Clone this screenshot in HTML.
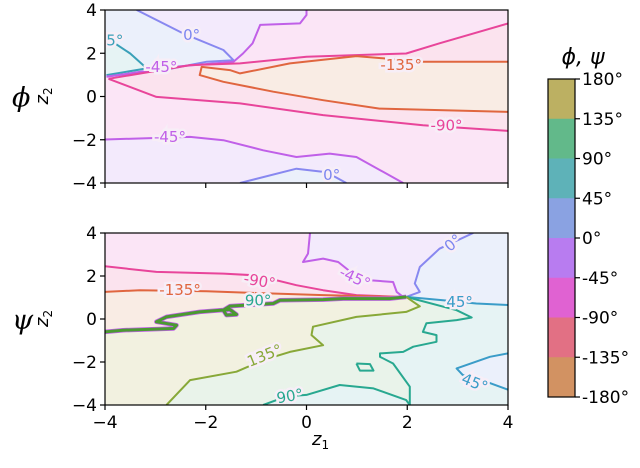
<!DOCTYPE html>
<html><head><meta charset="utf-8">
<style>
body{margin:0;background:#fff;}
svg{display:block;font-family:"DejaVu Sans","Liberation Sans",sans-serif;}
</style></head>
<body>
<svg id="chart" width="640" height="468" viewBox="0 0 640 468"></svg>
<script>
// ---- data (z1, z2 coordinates) ----
const xTicks = [-4,-2,0,2,4];
const yTicks = [4,2,0,-2,-4];
const cbLevels = [180,135,90,45,0,-45,-90,-135,-180];
const cbColors = ["#bcb062","#62b98a","#5eb2b8","#8aa2e2","#b87cf0","#e062d2","#e27084","#d29262"];

// top panel (phi)
const phiM90Upper = [[-3.93,0.82],[-2.31,1.45],[-1.32,1.53],[0,1.84],[1.98,1.99],[2.64,2.46],[4,3.38]];
const phiM90Lower = [[-3.93,0.82],[-2.98,-0.02],[-1.32,-0.32],[0.33,-0.86],[2.31,-1.33],[4,-1.59]];
const phiM135 = [[4,1.61],[2.31,1.61],[0.99,1.87],[-0.33,1.53],[-1.32,1.07],[-1.52,1.22],[-2.08,1.37],[-2.12,0.99],[-1.65,0.68],[-0.66,0.22],[0.33,-0.17],[1.45,-0.56],[4,-0.71]];
const phiM45Lower = [[-4,-1.99],[-2.31,-1.87],[-1.65,-2.02],[-0.86,-2.49],[-0.2,-2.8],[0.46,-2.64],[0.99,-2.8],[1.92,-4]];
const phiM45Upper = [[0,4],[0,3.77],[-0.13,3.38],[-0.92,3.31],[-1.07,2.46],[-1.26,1.99],[-1.45,1.61],[-2.64,1.37],[-3.97,0.91]];
const phi0Upper = [[-3.37,4],[-2.45,2.92],[-1.65,2.15],[-1.45,1.68],[-1.98,1.61],[-2.84,1.22],[-3.97,0.93]];
const phi45 = [[-4,2.76],[-3.5,1.99],[-3.17,1.3],[-3.97,0.99]];
const phi0Lower = [[-1.32,-4],[-0.2,-3.34],[0.4,-3.5],[0.79,-4]];

// bottom panel (psi)
const psiM90 = [[-4,2.45],[-2.98,2.19],[-1.65,2.11],[-0.99,2.03],[-0.2,1.57],[0.33,1.34],[0.99,1.11],[1.85,1.03]];
const psiM135 = [[-4,1.26],[-3.31,1.34],[-1.98,1.29],[-0.99,1.21],[0.33,1.11],[1.85,1.03]];
const psiM45 = [[0.07,4],[0.03,3.04],[-0.07,2.65],[0.33,2.81],[0.63,2.65],[0.92,2.11],[1.26,1.8],[1.72,1.72],[1.79,1.26],[1.92,1.03]];
const psi0 = [[3.31,4],[2.64,3.27],[2.25,2.42],[2.15,1.65],[2.25,1.26],[1.98,1.03]];
const psi45Upper = [[1.98,1.03],[2.71,0.87],[3.37,0.72],[4,0.65]];
const psi45Lower = [[4,-1.6],[3.64,-1.76],[2.98,-2.3],[3.1,-2.6],[3.64,-2.98],[4,-3.29]];
const psi90 = [[1.98,1.03],[2.98,0.41],[3.28,0.07],[2.98,-0.05],[2.38,-0.2],[2.31,-0.6],[2.58,-0.75],[2.58,-1.06],[2.12,-1.29],[1.92,-1.53],[1.46,-1.6],[1.46,-1.76],[1.72,-2.07],[2.05,-3.15],[2.05,-4]];
const psi90Lower = [[-0.86,-4],[-0.4,-3.6],[0,-3.53],[0.66,-3.07],[1.33,-3.23],[1.98,-3.77],[2.05,-4]];
const psi135 = [[1.98,1.03],[2.25,0.59],[1.98,0.33],[0.99,0.1],[0.13,-0.36],[0.1,-0.75],[0.33,-1.22],[-0.33,-1.53],[-0.86,-1.91],[-1.39,-2.45],[-2.31,-2.84],[-2.78,-4]];
const psiLoop = [[0.99,-2.07],[1.26,-2.1],[1.33,-2.4],[1.06,-2.4],[0.99,-2.07]];
const psiThick = [[-4,-0.6],[-3.64,-0.52],[-2.64,-0.44],[-2.58,-0.29],[-2.98,-0.13],[-2.78,0.1],[-2.12,0.33],[-1.52,0.44],[-1.39,0.21],[-1.59,0.18],[-1.65,0.41],[-1.52,0.6],[-0.66,0.72],[-0.53,0.87],[0.33,0.9],[0.73,0.95],[1.65,0.95],[1.98,1.03]];

// contour labels: [text, z1, z2, rotation, color]
const phiLabels = [["0°",-2.28,2.84,0,"#7c86f0"],["45°",-3.9,2.6,0,"#3aa0b8"],["-45°",-2.88,1.37,0,"#c060e8"],["-135°",1.88,1.45,0,"#e0663f"],["-90°",2.78,-1.33,0,"#e8459a"],["-45°",-2.71,-1.87,0,"#c060e8"],["0°",0.5,-3.64,0,"#7c86f0"]];
const psiLabels = [["-90°",-0.93,1.76,10,"#e8459a"],["-135°",-2.51,1.34,0,"#e0663f"],["-45°",0.96,1.91,25,"#c060e8"],["0°",2.91,3.54,-40,"#7c86f0"],["90°",-0.96,0.86,0,"#28a890"],["45°",3.04,0.8,0,"#3a9cc8"],["135°",-0.83,-1.7,-22,"#88a838"],["90°",-0.33,-3.59,-10,"#28a890"],["45°",3.34,-2.97,22,"#3a9cc8"]];

// ---- rendering ----
const NS="http://www.w3.org/2000/svg";
const svg=document.getElementById('chart');
const X0=105,X1=508;
const panels=[{y0:10,y1:183,name:'phi'},{y0:233,y1:405,name:'psi'}];
function el(tag,attrs,parent){const e=document.createElementNS(NS,tag);for(const k in attrs)e.setAttribute(k,attrs[k]);(parent||svg).appendChild(e);return e;}
function sx(v){return X0+(v+4)/8*(X1-X0);}
function makeSy(p){return v=>p.y0+(4-v)/8*(p.y1-p.y0);}
function pts(arr,sy){return arr.map(d=>sx(d[0]).toFixed(1)+','+sy(d[1]).toFixed(1)).join(' ');}

function panel(p,idx){
  const sy=makeSy(p);
  const g=el('g',{});
  
  
  const cid='clip'+idx;
  const cp=el('clipPath',{id:cid},g);
  el('rect',{x:X0,y:p.y0,width:X1-X0,height:p.y1-p.y0},cp);
  const plot=el('g',{'clip-path':'url(#'+cid+')'},g);
  
  
  return {g,plot,sy};
}
function fillPoly(parent,arr,sy,color,name){
  const e=el('polygon',{points:pts(arr,sy),fill:color,stroke:'none'},parent);
  
  
}
function line(parent,arr,sy,color,w,name){
  const e=el('polyline',{points:pts(arr,sy),fill:'none',stroke:color,'stroke-width':w||2,'stroke-linejoin':'round'},parent);
  
  
}
function labels(parent,arr,sy,name){
  arr.forEach(l=>{
    const x=sx(l[1]),y=sy(l[2]);
    const t=el('text',{x:x,y:y+5,'text-anchor':'middle','font-size':15,fill:l[4],stroke:'#f7eef7','stroke-width':5,'paint-order':'stroke',transform:'rotate('+l[3]+' '+x+' '+y+')'},parent);
    t.textContent=l[0];
    
    
  });
}
const T={orange:'#f9ece4',pink:'#fbe3ee',mag:'#fbe5f6',vio:'#f3eafc',blue:'#ebf0fb',teal:'#e6f3f4',green:'#e9f3ea',olive:'#f2f1e0'};

// top panel
{
  const P=panel(panels[0],0),s=P.sy,pl=P.plot;
  const bg=el('rect',{x:X0,y:10,width:X1-X0,height:173,fill:T.mag},pl);
  
  fillPoly(pl,phiM45Upper.concat([[-4,0.91],[-4,4]]),s,T.vio,'phi-region-violet-top');
  fillPoly(pl,phiM45Lower.concat([[-4,-4]]),s,T.vio,'phi-region-violet-bottom');
  fillPoly(pl,phi0Upper.concat([[-4,0.93],[-4,4]]),s,T.blue,'phi-region-blue-top');
  fillPoly(pl,phi0Lower,s,T.blue,'phi-region-blue-bottom');
  fillPoly(pl,phi45,s,T.teal,'phi-region-teal');
  fillPoly(pl,phiM90Upper.concat(phiM90Lower.slice().reverse()),s,T.pink,'phi-region-pink');
  fillPoly(pl,phiM135,s,T.orange,'phi-region-orange');
  line(pl,phi45,s,'#3aa0b8',2,'phi-contour-45');
  line(pl,phi0Upper,s,'#8888f0',2,'phi-contour-0-upper');
  line(pl,phi0Lower,s,'#8888f0',2,'phi-contour-0-lower');
  line(pl,phiM45Upper,s,'#c060e8',2,'phi-contour-m45-upper');
  line(pl,phiM45Lower,s,'#c060e8',2,'phi-contour-m45-lower');
  line(pl,phiM90Upper,s,'#e8459a',2,'phi-contour-m90-upper');
  line(pl,phiM90Lower,s,'#e8459a',2,'phi-contour-m90-lower');
  line(pl,phiM135,s,'#e0663f',2,'phi-contour-m135');
  labels(pl,phiLabels,s,'phi-contour-label');
}
// bottom panel
{
  const P=panel(panels[1],1),s=P.sy,pl=P.plot;
  const bg=el('rect',{x:X0,y:233,width:X1-X0,height:172,fill:T.blue},pl);
  
  fillPoly(pl,psi45Upper.concat(psi45Lower,[[4,-4],[-4,-4],[-4,1.03]]),s,T.teal,'psi-region-teal');
  fillPoly(pl,psi90.concat([[-4,-4],[-4,1.03]]),s,T.green,'psi-region-green');
  fillPoly(pl,psi90Lower,s,T.teal,'psi-region-teal-bottom');
  fillPoly(pl,psi135.concat([[-4,-4],[-4,1.03]]),s,T.olive,'psi-region-olive');
  fillPoly(pl,psiThick.concat([[2,4],[-4,4]]),s,T.orange,'psi-region-orange');
  fillPoly(pl,psiM135.concat([[2,4],[-4,4]]),s,T.pink,'psi-region-pink');
  fillPoly(pl,psiM90.concat([[2,4],[-4,4]]),s,T.mag,'psi-region-magenta');
  fillPoly(pl,psiM45.concat([[4,1.03],[4,4]]),s,T.vio,'psi-region-violet');
  fillPoly(pl,psi0.concat(psi45Upper.slice(1),[[4,4]]),s,T.blue,'psi-region-blue');
  line(pl,psiM90,s,'#e8459a',2,'psi-contour-m90');
  line(pl,psiM135,s,'#e0663f',2,'psi-contour-m135');
  line(pl,psiM45,s,'#c060e8',2,'psi-contour-m45');
  line(pl,psi0,s,'#8888f0',2,'psi-contour-0');
  line(pl,psi45Upper,s,'#3a9cc8',2,'psi-contour-45-upper');
  line(pl,psi45Lower,s,'#3a9cc8',2,'psi-contour-45-lower');
  line(pl,psi90,s,'#28a890',2,'psi-contour-90');
  line(pl,psi90Lower,s,'#28a890',2,'psi-contour-90-lower');
  line(pl,psi135,s,'#88a838',2,'psi-contour-135');
  line(pl,psiLoop,s,'#28a890',2,'psi-contour-90-loop');
  line(pl,psiThick,s,'#c060e8',4.5,'psi-discontinuity-outline');
  line(pl,psiThick,s,'#4a9a30',3,'psi-discontinuity-180');
  labels(pl,psiLabels,s,'psi-contour-label');
}
// axes frames, ticks
panels.forEach((p,i)=>{
  const sy=makeSy(p);
  const f=el('rect',{x:X0,y:p.y0,width:X1-X0,height:p.y1-p.y0,fill:'none',stroke:'#000','stroke-width':1.2});
  
  yTicks.forEach(v=>{
    el('line',{x1:X0-5,x2:X0,y1:sy(v),y2:sy(v),stroke:'#000','stroke-width':1.2});
    const t=el('text',{x:X0-8,y:sy(v)+6,'text-anchor':'end','font-size':17,fill:'#000'});
    t.textContent=v<0?'\u2212'+(-v):String(v);
    
  });
  xTicks.forEach(v=>{
    el('line',{x1:sx(v),x2:sx(v),y1:p.y1,y2:p.y1+5,stroke:'#000','stroke-width':1.2});
    if(i===1){
      const t=el('text',{x:sx(v),y:p.y1+23,'text-anchor':'middle','font-size':17,fill:'#000'});
      t.textContent=v<0?'\u2212'+(-v):String(v);
      
    }
  });
  const yl=el('text',{x:0,y:0,'font-size':18,fill:'#000','font-style':'italic',transform:'translate(48,'+((p.y0+p.y1)/2+8)+') rotate(-90)'});
  yl.innerHTML='z<tspan font-size="12" dy="4" font-style="normal">2</tspan>';
  
  const big=el('text',{x:12,y:(p.y0+p.y1)/2+10,'font-size':27,'font-style':'italic',fill:'#000','font-family':'"DejaVu Serif",serif'});
  big.textContent=i===0?'\u03d5':'\u03c8';
  
});
const xl=el('text',{x:312,y:445,'font-size':18,'font-style':'italic',fill:'#000'});
xl.innerHTML='z<tspan font-size="12" dy="4" font-style="normal">1</tspan>';


// colorbar
const CB={x:548,w:27,y0:79,y1:397};
const cbg=el('g',{});

function cby(v){return CB.y0+(180-v)/360*(CB.y1-CB.y0);}
cbColors.forEach((c,i)=>{
  const r=el('rect',{x:CB.x,y:cby(cbLevels[i]),width:CB.w,height:cby(cbLevels[i+1])-cby(cbLevels[i])+0.5,fill:c},cbg);
  
});
el('rect',{x:CB.x,y:CB.y0,width:CB.w,height:CB.y1-CB.y0,fill:'none',stroke:'#000','stroke-width':1.2},cbg);
cbLevels.forEach(v=>{
  el('line',{x1:CB.x+CB.w,x2:CB.x+CB.w+5,y1:cby(v),y2:cby(v),stroke:'#000','stroke-width':1.2},cbg);
  const t=el('text',{x:CB.x+CB.w+7,y:cby(v)+6,'font-size':17,fill:'#000'},cbg);
  t.textContent=v+'°';
  
});
const ct=el('text',{x:583,y:64,'text-anchor':'middle','font-size':22,'font-style':'italic',fill:'#000'});
ct.textContent='\u03d5, \u03c8';

</script>
</body></html>
